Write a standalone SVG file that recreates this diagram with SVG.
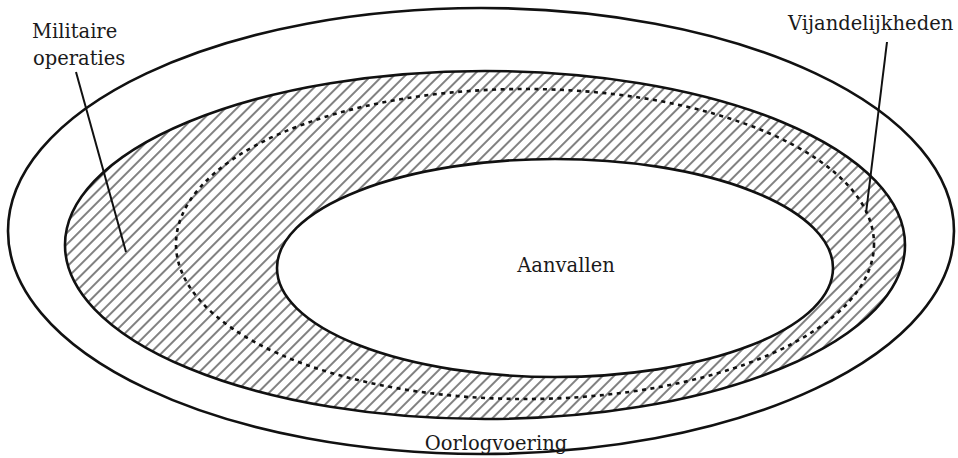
<svg xmlns="http://www.w3.org/2000/svg" width="958" height="458" viewBox="0 0 958 458">
  <defs>
    <pattern id="hatch" patternUnits="userSpaceOnUse" width="8" height="10" patternTransform="rotate(45)">
      <rect width="8" height="10" fill="#ffffff"/>
      <line x1="4" y1="0" x2="4" y2="10" stroke="#1a1a1a" stroke-width="1.1"/>
    </pattern>
  </defs>
  <style>
    .ring { stroke: #111; stroke-width: 2.6; }
    .dash { fill: none; stroke: #111; stroke-width: 2.6; stroke-dasharray: 4 4.5; }
    .leader { stroke: #111; stroke-width: 2; fill: none; }
    .lbl { font-family: "DejaVu Serif", "Liberation Serif", serif; font-size: 19.5px; fill: #1a1a1a; }
  </style>
  <rect width="958" height="458" fill="#ffffff"/>
  <g id="oorlogvoering">
    <ellipse class="ring" cx="481" cy="231" rx="473" ry="223" fill="#ffffff"/>
    <text class="lbl" x="496" y="450" text-anchor="middle">Oorlogvoering</text>
  </g>
  <g id="militaire-operaties">
    <ellipse class="ring" cx="485" cy="245" rx="420" ry="174" fill="url(#hatch)"/>
  </g>
  <g id="vijandelijkheden">
    <ellipse class="dash" cx="525" cy="244" rx="349" ry="155"/>
  </g>
  <g id="aanvallen">
    <ellipse class="ring" cx="555" cy="268" rx="278" ry="109" fill="#ffffff"/>
    <text class="lbl" x="566" y="272" text-anchor="middle">Aanvallen</text>
  </g>
  <g id="connectors">
    <line class="leader" x1="76" y1="72" x2="126" y2="252"/>
    <line class="leader" x1="887" y1="42" x2="866" y2="213"/>
  </g>
  <g id="label-militaire">
    <text class="lbl" x="32" y="38">Militaire</text>
    <text class="lbl" x="33" y="65">operaties</text>
  </g>
  <g id="label-vijandelijkheden">
    <text class="lbl" x="788" y="30">Vijandelijkheden</text>
  </g>
</svg>
